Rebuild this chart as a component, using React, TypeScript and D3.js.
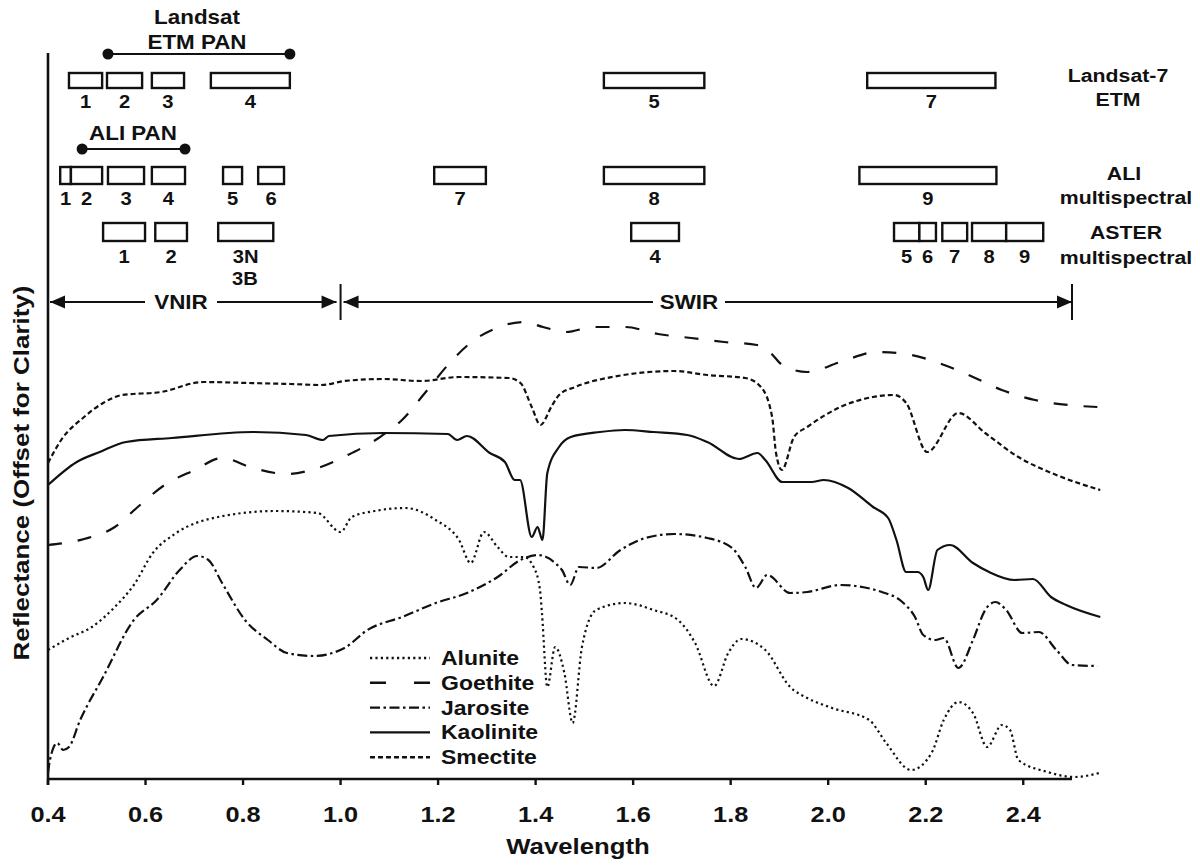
import React from "react";
import * as d3 from "d3";

const layout = { width: 1200, height: 867 };
const FONT = "'Liberation Sans', Arial, Helvetica, sans-serif";

// reflectance spectra, [wavelength (um), offset reflectance]
const alunite = [
  [0.4, 12.9], [0.443, 14.1], [0.49, 15.2], [0.537, 17.2], [0.576, 19.4], [0.615, 22.6],
  [0.663, 24.6], [0.749, 26.2], [0.867, 26.8], [0.953, 26.6], [1.0, 24.7], [1.023, 26.2],
  [1.07, 26.8], [1.133, 27.1], [1.195, 25.9], [1.243, 23.9], [1.267, 21.6], [1.294, 24.7],
  [1.322, 23.2], [1.345, 22.2], [1.376, 22.2], [1.396, 21.2], [1.409, 18.9], [1.413, 16.6],
  [1.424, 9.2], [1.44, 13.2], [1.459, 10.6], [1.476, 5.6], [1.495, 13.2], [1.524, 16.9],
  [1.583, 17.6], [1.642, 16.9], [1.692, 15.9], [1.727, 13.6], [1.766, 9.3], [1.795, 12.6],
  [1.822, 14.0], [1.871, 12.9], [1.922, 9.2], [1.957, 8.1], [2.008, 7.1], [2.084, 5.9],
  [2.119, 3.6], [2.17, 0.9], [2.212, 2.6], [2.237, 5.9], [2.267, 7.7], [2.297, 6.6],
  [2.326, 3.2], [2.356, 5.4], [2.373, 4.9], [2.39, 1.9], [2.45, 0.7], [2.505, 0.2], [2.556, 0.6]
];

const goethite = [
  [0.4, 23.4], [0.474, 24.0], [0.537, 25.2], [0.584, 27.2], [0.639, 29.4], [0.701, 30.9],
  [0.757, 32.1], [0.82, 31.1], [0.89, 30.5], [0.953, 31.1], [1.015, 32.4], [1.078, 34.1],
  [1.126, 35.9], [1.173, 38.6], [1.22, 41.4], [1.266, 43.6], [1.32, 45.1], [1.376, 45.7],
  [1.415, 45.2], [1.463, 44.7], [1.518, 45.2], [1.583, 45.2], [1.651, 44.5], [1.719, 44.1],
  [1.787, 43.7], [1.854, 43.4], [1.88, 42.7], [1.906, 41.4], [1.957, 40.7], [2.025, 41.7],
  [2.1, 42.7], [2.17, 42.4], [2.238, 41.4], [2.297, 40.2], [2.356, 38.9], [2.424, 37.9],
  [2.492, 37.4], [2.552, 37.2]
];

const jarosite = [
  [0.4, 0.6], [0.404, 1.9], [0.419, 3.6], [0.431, 2.9], [0.443, 3.2], [0.466, 5.9],
  [0.513, 10.2], [0.576, 15.9], [0.623, 17.9], [0.67, 20.9], [0.706, 22.3], [0.729, 21.9],
  [0.757, 19.6], [0.804, 15.9], [0.851, 13.9], [0.89, 12.6], [0.945, 12.3], [1.008, 13.1],
  [1.055, 14.9], [1.126, 16.2], [1.195, 17.6], [1.259, 18.6], [1.322, 20.2], [1.369, 21.9],
  [1.404, 22.4], [1.44, 21.6], [1.454, 20.9], [1.471, 19.4], [1.489, 21.2], [1.524, 21.1],
  [1.574, 22.9], [1.625, 24.1], [1.684, 24.5], [1.752, 24.1], [1.803, 23.1], [1.83, 21.2],
  [1.852, 19.1], [1.875, 20.4], [1.922, 18.6], [1.957, 18.7], [2.025, 19.4], [2.11, 18.7],
  [2.152, 17.7], [2.178, 16.2], [2.195, 14.4], [2.22, 13.9], [2.237, 14.1], [2.267, 11.1],
  [2.297, 13.9], [2.322, 16.9], [2.343, 17.7], [2.365, 16.9], [2.398, 14.6], [2.432, 14.7],
  [2.468, 12.9], [2.5, 11.4], [2.552, 11.3]
];

const kaolinite = [
  [0.4, 29.4], [0.459, 31.7], [0.506, 32.7], [0.56, 33.7], [0.654, 34.1], [0.82, 34.7],
  [0.929, 34.4], [0.964, 33.9], [0.976, 34.3], [1.087, 34.6], [1.22, 34.5], [1.239, 33.9],
  [1.259, 34.3], [1.306, 32.6], [1.337, 31.7], [1.357, 29.9], [1.368, 29.9], [1.392, 24.2],
  [1.404, 25.2], [1.414, 23.9], [1.424, 30.6], [1.448, 33.2], [1.472, 34.2], [1.532, 34.7],
  [1.583, 34.9], [1.642, 34.7], [1.711, 34.4], [1.752, 33.7], [1.817, 32.0], [1.855, 32.6],
  [1.871, 31.9], [1.906, 29.7], [1.966, 29.7], [1.991, 29.9], [2.041, 29.1], [2.092, 27.2],
  [2.123, 26.1], [2.14, 23.9], [2.16, 20.7], [2.183, 20.7], [2.195, 20.2], [2.205, 18.9],
  [2.224, 22.9], [2.25, 23.4], [2.297, 21.6], [2.33, 20.7], [2.382, 19.9], [2.42, 20.0],
  [2.457, 18.2], [2.488, 17.4], [2.558, 16.2]
];

const smectite = [
  [0.4, 31.6], [0.427, 33.9], [0.474, 36.2], [0.513, 37.6], [0.552, 38.4], [0.632, 38.7],
  [0.718, 39.7], [0.812, 39.6], [0.898, 39.5], [0.961, 39.4], [1.008, 39.8], [1.087, 40.0],
  [1.165, 39.8], [1.243, 40.2], [1.345, 40.1], [1.369, 39.6], [1.392, 37.2], [1.41, 35.4],
  [1.432, 37.2], [1.448, 38.4], [1.481, 39.2], [1.557, 40.2], [1.684, 40.8], [1.752, 40.4],
  [1.83, 40.1], [1.862, 39.2], [1.885, 36.2], [1.893, 32.6], [1.905, 30.9], [1.93, 34.2],
  [1.957, 35.2], [2.025, 37.2], [2.092, 38.2], [2.135, 38.4], [2.16, 37.6], [2.203, 32.7],
  [2.267, 36.6], [2.322, 34.6], [2.39, 32.2], [2.468, 30.4], [2.558, 28.9]
];

const xTicks = [0.4, 0.6, 0.8, 1.0, 1.2, 1.4, 1.6, 1.8, 2.0, 2.2, 2.4];

// sensor bands, [label, from, to] in um
const landsatBands = [
  ["1", 0.443, 0.511], ["2", 0.521, 0.593], ["3", 0.613, 0.679], ["4", 0.734, 0.896],
  ["5", 1.54, 1.746], ["7", 2.08, 2.343]
];
const aliBands = [
  ["1", 0.425, 0.447], ["2", 0.447, 0.511], ["3", 0.523, 0.597], ["4", 0.613, 0.681],
  ["5", 0.759, 0.798], ["6", 0.831, 0.884], ["7", 1.192, 1.298], ["8", 1.54, 1.746],
  ["9", 2.064, 2.345]
];
const asterBands = [
  ["1", 0.513, 0.599], ["2", 0.62, 0.685], ["3N", 0.749, 0.862], ["4", 1.596, 1.694],
  ["5", 2.135, 2.187], ["6", 2.187, 2.221], ["7", 2.234, 2.285], ["8", 2.295, 2.365],
  ["9", 2.365, 2.441]
];
const landsatPan = [0.523, 0.896];
const aliPan = [0.47, 0.681];
const regions = [["VNIR", 0.4, 1.0], ["SWIR", 1.0, 2.5]];

const series = [
  { name: "Alunite", data: alunite, dash: "2.2,3.2", legendDash: "2.2,3.2" },
  { name: "Goethite", data: goethite, dash: "14,16", legendDash: "16,28" },
  { name: "Jarosite", data: jarosite, dash: "10,3.5,2.5,3.5", legendDash: "10,3.5,2.5,3.5" },
  { name: "Kaolinite", data: kaolinite, dash: null, legendDash: null },
  { name: "Smectite", data: smectite, dash: "5,3", legendDash: "5,3" }
];

const Txt = ({ x, y, size, anchor = "middle", sx = 1.12, children }) => (
  <text
    transform={`translate(${x},${y}) scale(${sx},1)`}
    textAnchor={anchor}
    dominantBaseline="central"
    fontSize={size}
    fontWeight="bold"
    fontFamily={FONT}
    fill="#111"
  >
    {children}
  </text>
);

const App = () => {
  const xScale = d3.scaleLinear().domain([0.4, 2.5]).range([48, 1072]);
  const yScale = d3.scaleLinear().domain([0, 73]).range([779, 49]);
  const line = d3
    .line()
    .x(d => xScale(d[0]))
    .y(d => yScale(d[1]))
    .curve(d3.curveMonotoneX);

  const bandRow = (bands, top, h, labelY, key) =>
    bands.map((b, i) => {
      const x0 = xScale(b[1]);
      const x1 = xScale(b[2]);
      return (
        <g key={key + i}>
          <rect x={x0} y={top} width={x1 - x0} height={h} fill="#fff" stroke="#111" strokeWidth={2.4} />
          <Txt x={(x0 + x1) / 2} y={labelY} size={18}>{b[0]}</Txt>
        </g>
      );
    });

  const panLine = (pan, y) => (
    <g>
      <line x1={xScale(pan[0])} x2={xScale(pan[1])} y1={y} y2={y} stroke="#111" strokeWidth={2.2} />
      <circle cx={xScale(pan[0])} cy={y} r={5.5} fill="#111" />
      <circle cx={xScale(pan[1])} cy={y} r={5.5} fill="#111" />
    </g>
  );

  const arrowY = 302;
  const head = (tipX, dir) => {
    const len = 15;
    return (
      <path
        d={`M${tipX},${arrowY} L${tipX + dir * len},${arrowY - 6.5} L${tipX + dir * len},${arrowY + 6.5} Z`}
        fill="#111"
      />
    );
  };

  const legendX = 370;
  const legendY = 658;
  const legendStep = 24.8;

  return (
    <svg
      width={layout.width}
      height={layout.height}
      style={{ position: "absolute", left: 0, top: 0, background: "#fff" }}
    >
      {/* spectra */}
      {series.map(s => (
        <path
          key={s.name}
          d={line(s.data)}
          fill="none"
          stroke="#111"
          strokeWidth={2.2}
          strokeDasharray={s.dash || undefined}
        />
      ))}

      {/* axes */}
      <line x1={48} x2={48} y1={53} y2={785} stroke="#111" strokeWidth={2.6} />
      <line x1={48} x2={xScale(2.5)} y1={yScale(0)} y2={yScale(0)} stroke="#111" strokeWidth={2.6} />
      {xTicks.map(t => (
        <g key={t}>
          <line x1={xScale(t)} x2={xScale(t)} y1={yScale(0)} y2={yScale(0) + 6} stroke="#111" strokeWidth={2.4} />
          <Txt x={xScale(t)} y={815} size={22} sx={1.15}>{d3.format(".1f")(t)}</Txt>
        </g>
      ))}
      <Txt x={578} y={846} size={23}>Wavelength</Txt>
      <text
        transform="translate(29,473) rotate(-90) scale(1.18,1)"
        textAnchor="middle"
        fontSize={22}
        fontWeight="bold"
        fontFamily={FONT}
        fill="#111"
      >
        Reflectance (Offset for Clarity)
      </text>

      {/* VNIR / SWIR */}
      {regions.map((r, i) => {
        const x0 = xScale(r[1]);
        const x1 = xScale(r[2]);
        const l = i === 0 ? x0 + 2 : x0 + 3;
        const rr = i === 0 ? x1 - 4 : x1;
        const cx = i === 0 ? 181 : 689;
        return (
          <g key={r[0]}>
            <line x1={l} x2={rr} y1={arrowY} y2={arrowY} stroke="#111" strokeWidth={2.2} />
            {head(l, 1)}
            {head(rr, -1)}
            <rect x={cx - 36} y={arrowY - 12} width={72} height={24} fill="#fff" />
            <Txt x={cx} y={arrowY} size={20}>{r[0]}</Txt>
          </g>
        );
      })}
      <line x1={xScale(1.0)} x2={xScale(1.0)} y1={284} y2={320} stroke="#111" strokeWidth={2} />
      <line x1={xScale(2.5)} x2={xScale(2.5)} y1={284} y2={320} stroke="#111" strokeWidth={2} />

      {/* sensor bands */}
      <Txt x={197} y={17} size={20}>Landsat</Txt>
      <Txt x={197} y={42} size={20}>ETM PAN</Txt>
      {panLine(landsatPan, 54)}
      {bandRow(landsatBands, 73, 15, 102, "l")}
      <Txt x={133} y={133} size={20}>ALI PAN</Txt>
      {panLine(aliPan, 149)}
      {bandRow(aliBands, 167, 17, 199, "a")}
      {bandRow(asterBands, 223, 18, 257, "s")}
      <Txt x={245} y={279} size={18}>3B</Txt>

      <Txt x={1118} y={75} size={19}>Landsat-7</Txt>
      <Txt x={1118} y={99} size={19}>ETM</Txt>
      <Txt x={1124} y={173} size={19}>ALI</Txt>
      <Txt x={1126} y={197} size={19}>multispectral</Txt>
      <Txt x={1126} y={232} size={19}>ASTER</Txt>
      <Txt x={1126} y={257} size={19}>multispectral</Txt>

      {/* legend */}
      {series.map((s, i) => {
        const y = legendY + i * legendStep;
        return (
          <g key={"lg" + s.name}>
            <line
              x1={legendX}
              x2={legendX + 60}
              y1={y}
              y2={y}
              stroke="#111"
              strokeWidth={2.4}
              strokeDasharray={s.legendDash || undefined}
            />
            <Txt x={legendX + 71} y={y} size={20} anchor="start" sx={1.15}>{s.name}</Txt>
          </g>
        );
      })}
    </svg>
  );
};

export default App;
